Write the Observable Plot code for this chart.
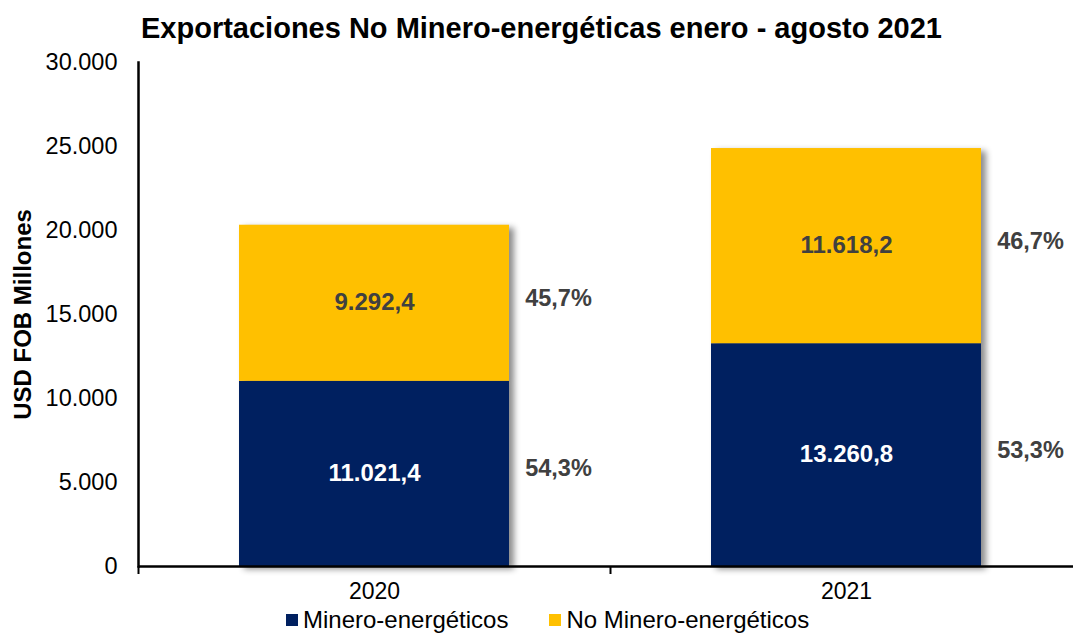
<!DOCTYPE html>
<html>
<head>
<meta charset="utf-8">
<script src="https://cdn.jsdelivr.net/npm/d3@7"></script>
<script src="https://cdn.jsdelivr.net/npm/@observablehq/plot@0.6"></script>
<style>
  html, body { margin: 0; padding: 0; background: #fff; overflow: hidden; width: 1073px; height: 634px; }
  body { font-family: "Liberation Sans", Arial, sans-serif; color: #000; }
  #title { height: 50px; line-height: 56px; text-align: center; font-weight: bold; font-size: 29px; padding-left: 10px; white-space: nowrap; }
  #chart svg { display: block; overflow: visible; }
  #legend { display: flex; align-items: center; height: 28px; margin-left: 286px; font-size: 24px; white-space: nowrap; }
  #legend .sw { width: 12px; height: 12px; margin-right: 5px; }
  #legend .item { display: flex; align-items: center; margin-right: 41px; }
  g[aria-label="y-axis label"] text { font-weight: bold; font-size: 24px; }
</style>
</head>
<body>
<div id="title"></div>
<div id="chart"></div>
<div id="legend"></div>
<script>
const titleText = "Exportaciones No Minero-energéticas enero - agosto 2021";
const yLabel = "USD FOB Millones";
const years = ["2020", "2021"];
const series = ["Minero-energéticos", "No Minero-energéticos"];
const minero = [11021.4, 13260.8];
const noMinero = [9292.4, 11618.2];
const colors = ["#002060", "#FFC000"];
const yTicks = [0, 5000, 10000, 15000, 20000, 25000, 30000];

const loc = d3.formatLocale({decimal: ",", thousands: ".", grouping: [3], currency: ["", ""]});
const fmtInt = loc.format(",.0f");
const fmt1 = loc.format(",.1f");

const data = years.flatMap((yr, i) => [
  {year: yr, serie: series[0], value: minero[i], total: minero[i] + noMinero[i]},
  {year: yr, serie: series[1], value: noMinero[i], total: minero[i] + noMinero[i]}
]);
const pct = d => fmt1(100 * d.value / d.total) + "%";

const font = "'Liberation Sans', Arial, sans-serif";

const chart = Plot.plot({
  width: 1073,
  height: 556,
  marginLeft: 138,
  marginRight: 0,
  marginTop: 12,
  marginBottom: 40,
  style: {fontFamily: font, background: "white", overflow: "visible"},
  x: {domain: years, range: [138, 1082], paddingInner: 0.428, paddingOuter: 0.214, label: null},
  y: {domain: [0, 30000], label: yLabel},
  color: {domain: series, range: colors},
  marks: [
    Plot.barY(data, {x: "year", y: "value", fill: "serie"}),
    Plot.text(data, Plot.stackY({x: "year", y: "value", z: "serie",
      text: d => d.serie === series[0] ? fmt1(d.value) : "", fill: "white",
      fontSize: 24, fontWeight: "bold", dy: -1})),
    Plot.text(data, Plot.stackY({x: "year", y: "value", z: "serie",
      text: d => d.serie === series[1] ? fmt1(d.value) : "", fill: "#404040",
      fontSize: 24, fontWeight: "bold", dy: -1})),
    Plot.text(data, Plot.stackY({x: "year", y: "value", z: "serie",
      text: pct, fill: "#404040", fontSize: 23.5, fontWeight: "bold", dx: 184, dy: -5})),
    Plot.ruleY([0], {stroke: "black", strokeWidth: 2.5}),
    Plot.frame({anchor: "left", stroke: "black", strokeWidth: 2.5}),
    Plot.axisY({ticks: yTicks, tickFormat: fmtInt, tickSize: 0, tickPadding: 21, fontSize: 23.5,
      label: yLabel, labelAnchor: "center", labelOffset: 125, labelArrow: "none"}),
    Plot.axisX({tickSize: 8, tickFormat: () => "", dx: -236, strokeWidth: 2, stroke: "black"}),
    Plot.axisX({tickSize: 0, tickPadding: 16, fontSize: 23})
  ]
});
document.getElementById("chart").appendChild(chart);
document.getElementById("title").textContent = titleText;

const bars = chart.querySelector('g[aria-label="bar"]');
if (bars) bars.style.filter = "drop-shadow(5px 3px 3px rgba(0,0,0,0.45))";

const legend = document.getElementById("legend");
series.forEach((s, i) => {
  const item = document.createElement("div");
  item.className = "item";
  const sw = document.createElement("div");
  sw.className = "sw";
  sw.style.background = colors[i];
  const t = document.createElement("span");
  t.textContent = s;
  item.appendChild(sw);
  item.appendChild(t);
  legend.appendChild(item);
});
</script>
</body>
</html>
